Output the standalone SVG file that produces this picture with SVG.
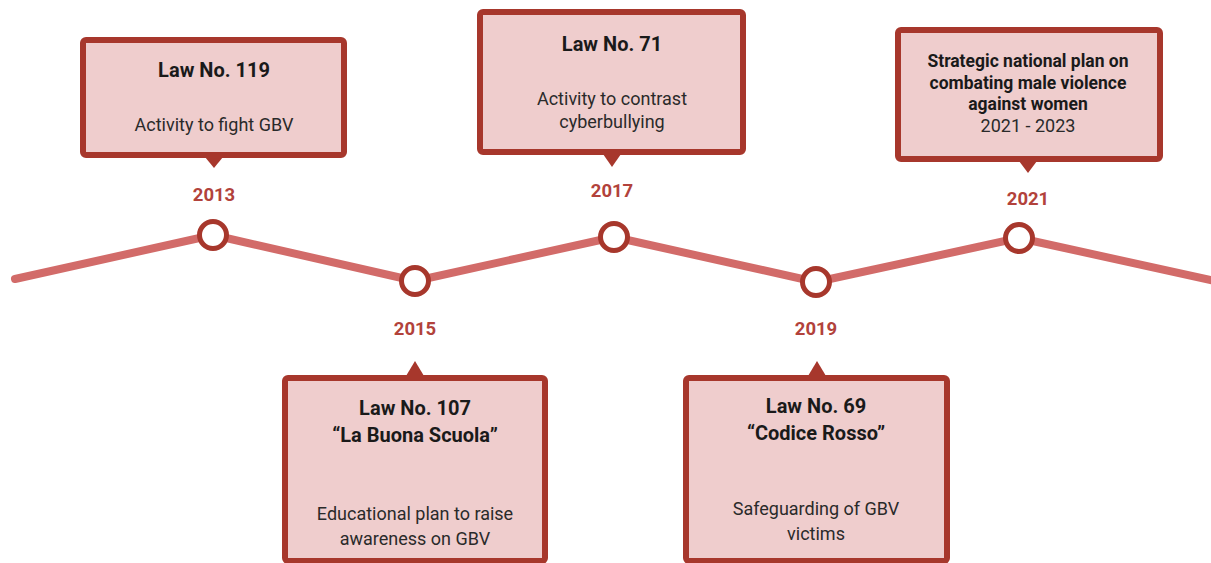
<svg xmlns="http://www.w3.org/2000/svg" width="1211" height="563" viewBox="0 0 1211 563">
  <style>
    .box { fill: #efcdcd; stroke: #a7372c; stroke-width: 6; }
    .tip { fill: #a7372c; }
    .title { font-family: Roboto, "Liberation Sans", sans-serif; font-weight: bold; font-size: 20px; fill: #1a1a1a; text-anchor: middle; }
    .plan { font-size: 17.5px; }
    .body { font-family: Roboto, "Liberation Sans", sans-serif; font-size: 18px; fill: #2a2a2a; text-anchor: middle; }
    .year { font-family: Roboto, "Liberation Sans", sans-serif; font-weight: bold; font-size: 18.5px; fill: #b2423b; text-anchor: middle; }
    .track { fill: none; stroke: #d26b69; stroke-width: 8; stroke-linecap: round; stroke-linejoin: round; }
    .dot { fill: #ffffff; stroke: #a7372c; stroke-width: 5; }
  </style>
  <rect width="1211" height="563" fill="#ffffff"/>

  <!-- timeline track -->
  <g id="connectors">
    <polyline class="track" points="15,279 213,235 415,281 614,237 816,282 1019,238 1215,281"/>
  </g>

  <!-- milestones -->
  <g id="node-2013">
    <rect class="box" x="83" y="40" width="261" height="115" rx="3"/>
    <polygon class="tip" points="205,157 223,157 214,168"/>
    <text class="title" x="214" y="77">Law No. 119</text>
    <text class="body" x="214" y="131">Activity to fight GBV</text>
    <text class="year" x="214" y="201">2013</text>
    <circle class="dot" cx="213" cy="235" r="13.5"/>
  </g>

  <g id="node-2015">
    <rect class="box" x="285" y="378" width="260" height="183" rx="3"/>
    <polygon class="tip" points="406,376 424,376 415,361"/>
    <text class="year" x="415" y="335">2015</text>
    <text class="title" x="415" y="415">Law No. 107</text>
    <text class="title" x="415" y="442">“La Buona Scuola”</text>
    <text class="body" x="415" y="520">Educational plan to raise</text>
    <text class="body" x="415" y="545">awareness on GBV</text>
    <circle class="dot" cx="415" cy="281" r="13.5"/>
  </g>

  <g id="node-2017">
    <rect class="box" x="480" y="12" width="263" height="140" rx="3"/>
    <polygon class="tip" points="603,154 621,154 612,167"/>
    <text class="title" x="612" y="51">Law No. 71</text>
    <text class="body" x="612" y="105">Activity to contrast</text>
    <text class="body" x="612" y="128">cyberbullying</text>
    <text class="year" x="612" y="197">2017</text>
    <circle class="dot" cx="614" cy="237" r="13.5"/>
  </g>

  <g id="node-2019">
    <rect class="box" x="686" y="378" width="261" height="183" rx="3"/>
    <polygon class="tip" points="808,376 826,376 817,361"/>
    <text class="year" x="816" y="335">2019</text>
    <text class="title" x="816" y="413">Law No. 69</text>
    <text class="title" x="816" y="440">“Codice Rosso”</text>
    <text class="body" x="816" y="515">Safeguarding of GBV</text>
    <text class="body" x="816" y="540">victims</text>
    <circle class="dot" cx="816" cy="282" r="13.5"/>
  </g>

  <g id="node-2021">
    <rect class="box" x="898" y="30" width="262" height="129" rx="3"/>
    <polygon class="tip" points="1019,161 1037,161 1028,173"/>
    <text class="title plan" x="1028" y="67">Strategic national plan on</text>
    <text class="title plan" x="1028" y="89">combating male violence</text>
    <text class="title plan" x="1028" y="110">against women</text>
    <text class="body" x="1028" y="132">2021 - 2023</text>
    <text class="year" x="1028" y="205">2021</text>
    <circle class="dot" cx="1019" cy="238" r="13.5"/>
  </g>
</svg>
